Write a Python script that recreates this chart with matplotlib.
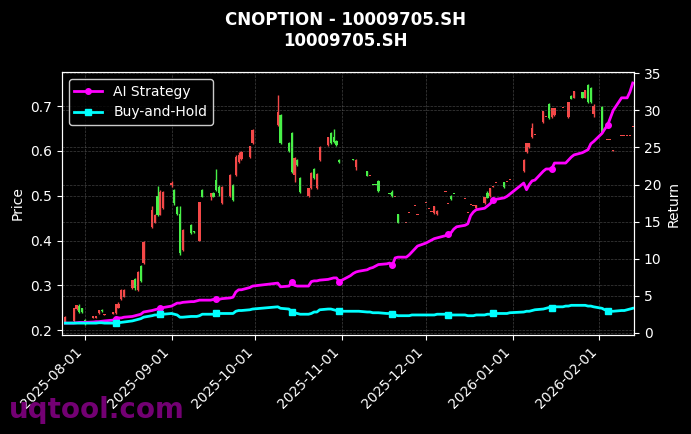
import numpy as np
import pandas as pd
import matplotlib
matplotlib.use("Agg")
import matplotlib.pyplot as plt
import matplotlib.dates as mdates

# trading calendar (SSE): weekdays minus National Day and New Year holidays
holidays = pd.to_datetime(["2025-10-01", "2025-10-02", "2025-10-03", "2025-10-06",
                           "2025-10-07", "2025-10-08", "2026-01-01", "2026-01-02"])
dates = pd.bdate_range("2025-07-25", "2026-02-13")
dates = dates[~dates.isin(holidays)]

# daily OHLC of the option (None = no trade that day)
opens = [.218, .220, .247, .254, .249, .222,
         .228, .228, .238, .246, .233, .236, .238, .250, .269, .275,
         .294, .314, .290, .343, .350, .430, .440, .500, .458, .472,
         .524, .512, .474, .460, .378, .434, .420, None, .400, .512,
         .498, .506, .535, .520, .483, .500, .524, .546, .575, .583,
         .586, .617, .657, .680, .617, .640, .546, .580, .540,
         .500, .517, .560, .517, .580, .613, .640, .630, .622, .580,
         None, None, .581, .565, None, .555, .544, .524, .525, .533,
         None, .505, .508, .497, .459, .439, .461, None, .477, .457,
         .483, .470, .463, .462, .459, .508, .481, .500, .504, None,
         .492, .461, .479, .477, .472, .483, .506, .499, .520, .528,
         .530, .530, .535, .555, .597, .608, .630, .635,
         .664, .675, .704, .675, .680, .695, None, .675, .722, .718,
         .731, .718, .747, .740, .682, .698, None, .624, .624, .600,
         .633, .633, .633, .633, .653]
highs = [.232, .250, .257, .258, .250, .224,
         .230, .229, .246, .248, .235, .241, .259, .262, .292, .291,
         .312, .316, .332, .346, .398, .478, .460, .522, .512, .510,
         .532, .515, .476, .476, .425, .436, .421, None, .487, .514,
         .506, .508, .560, .525, .521, .548, .526, .590, .598, .600,
         .612, .648, .725, .682, .619, .642, .586, .581, .542,
         .518, .552, .562, .550, .610, .632, .642, .648, .624, .582,
         None, None, .582, .582, None, .556, .545, .524, .525, .535,
         None, .505, .512, .498, .460, .440, .462, None, .478, .458,
         .484, .471, .464, .478, .468, .509, .482, .501, .504, None,
         .493, .462, .480, .478, .480, .498, .510, .518, .521, .529,
         .531, .531, .536, .582, .618, .618, .662, .636,
         .690, .676, .706, .696, .696, .696, None, .710, .724, .734,
         .732, .737, .750, .742, .705, .700, None, .625, .625, .601,
         .634, .634, .634, .634, .654]
lows = [.216, .218, .245, .238, .238, .212,
        .228, .228, .236, .240, .233, .235, .236, .249, .267, .274,
        .292, .290, .288, .308, .348, .428, .438, .455, .456, .470,
        .520, .480, .458, .367, .376, .415, .417, None, .398, .496,
        .490, .497, .510, .500, .481, .498, .488, .544, .573, .580,
        .584, .615, .655, .615, .598, .551, .530, .566, .506,
        .498, .515, .538, .515, .578, .611, .615, .618, .612, .574,
        None, None, .580, .558, None, .543, .544, .523, .523, .508,
        None, .504, .496, .497, .438, .439, .461, None, .477, .457,
        .483, .470, .463, .460, .458, .508, .481, .491, .503, None,
        .492, .461, .479, .477, .471, .482, .494, .498, .520, .528,
        .518, .530, .535, .553, .596, .607, .629, .635,
        .663, .675, .672, .674, .679, .695, None, .674, .715, .717,
        .717, .717, .708, .708, .675, .641, None, .624, .624, .600,
        .633, .633, .633, .633, .653]
closes = [.229, .249, .255, .241, .240, .214,
          .230, .229, .245, .242, .235, .240, .258, .258, .289, .290,
          .311, .294, .330, .310, .396, .468, .457, .457, .508, .508,
          .528, .483, .460, .372, .423, .416, .418, None, .485, .497,
          .505, .498, .512, .505, .519, .546, .490, .586, .590, .597,
          .610, .646, .686, .617, .600, .553, .584, .568, .508,
          .517, .550, .540, .548, .608, .630, .617, .620, .613, .575,
          None, None, .580, .580, None, .544, .545, .523, .523, .510,
          None, .504, .500, .498, .439, .440, .462, None, .478, .458,
          .484, .471, .464, .477, .466, .509, .482, .492, .503, None,
          .493, .462, .480, .478, .479, .497, .495, .517, .521, .529,
          .519, .531, .536, .580, .617, .617, .651, .636,
          .689, .676, .673, .695, .695, .696, None, .709, .716, .733,
          .718, .736, .709, .709, .700, .642, None, .625, .625, .601,
          .634, .634, .634, .634, .654]

# cumulative return curves (right axis)
ai_strategy = [1.3, 1.3, 1.35, 1.4, 1.4, 1.4,
               1.45, 1.5, 1.5, 1.55, 1.6, 1.7, 1.9, 2.0, 2.0, 2.1,
               2.2, 2.3, 2.4, 2.5, 2.8, 3.0, 3.1, 3.2, 3.3, 3.4,
               3.6, 3.8, 4.0, 4.0, 4.1, 4.2, 4.2, 4.3, 4.4, 4.4,
               4.4, 4.5, 4.5, 4.5, 4.6, 4.7, 4.8, 5.5, 5.8, 5.8,
               6.1, 6.3, 6.7, 6.2, 6.3, 6.8, 6.4, 6.3, 6.3,
               6.3, 6.9, 7.0, 7.0, 7.1, 7.2, 7.3, 7.4, 7.4, 6.9,
               7.5, 7.7, 8.0, 8.2, 8.3, 8.5, 8.7, 8.8, 9.0, 9.2,
               9.3, 9.4, 9.1, 10.1, 10.2, 10.2, 10.5, 10.9, 11.3, 11.7,
               12.1, 12.3, 12.5, 12.7, 12.8, 13.1, 13.3, 13.5, 14.0, 14.3,
               14.5, 14.7, 15.8, 16.3, 16.6, 16.8, 17.1, 17.4, 17.9, 18.0,
               18.2, 18.4, 18.7, 20.2, 19.3, 20.0, 20.5, 20.6,
               21.8, 22.1, 22.1, 22.1, 22.9, 22.9, 22.9, 23.3, 23.7, 24.0,
               24.3, 24.5, 24.7, 25.5, 25.8, 26.9, 27.5, 28.0, 29.0, 30.0,
               31.7, 31.7, 31.7, 32.5, 33.7]
buy_hold = [1.3, 1.3, 1.3, 1.3, 1.3, 1.3,
            1.3, 1.3, 1.35, 1.35, 1.3, 1.3, 1.35, 1.35, 1.4, 1.45,
            1.6, 1.7, 1.8, 1.9, 2.1, 2.3, 2.4, 2.4, 2.5, 2.5,
            2.6, 2.5, 2.4, 2.1, 2.1, 2.2, 2.2, 2.2, 2.3, 2.5,
            2.5, 2.5, 2.6, 2.6, 2.6, 2.6, 2.6, 2.9, 3.0, 3.0,
            3.1, 3.2, 3.5, 3.3, 3.2, 2.8, 2.7, 2.6, 2.5,
            2.5, 2.6, 2.8, 2.8, 3.1, 3.2, 3.2, 3.1, 3.0, 2.9,
            2.9, 2.9, 2.9, 2.9, 2.9, 2.8, 2.8, 2.7, 2.7, 2.7,
            2.6, 2.6, 2.5, 2.4, 2.3, 2.3, 2.3, 2.4, 2.4, 2.4,
            2.4, 2.4, 2.4, 2.4, 2.5, 2.5, 2.4, 2.4, 2.4, 2.4,
            2.4, 2.3, 2.3, 2.3, 2.4, 2.4, 2.5, 2.5, 2.6, 2.6,
            2.6, 2.6, 2.7, 2.8, 2.9, 2.9, 3.0, 3.1,
            3.2, 3.3, 3.4, 3.4, 3.5, 3.5, 3.6, 3.6, 3.7, 3.7,
            3.7, 3.7, 3.6, 3.6, 3.5, 3.3, 3.1, 3.0, 2.9, 2.9,
            3.0, 3.0, 3.1, 3.2, 3.3]
marker_idx = [12, 24, 38, 51, 64, 77, 91, 103, 116, 130]

o = np.array(opens, dtype=float)
h = np.array(highs, dtype=float)
l = np.array(lows, dtype=float)
c = np.array(closes, dtype=float)
x = mdates.date2num(dates)

UP = '#f44848'
DOWN = '#48f048'

fig = plt.figure(figsize=(6.91, 4.34), dpi=100, facecolor='black')
ax = fig.add_axes([0.0897, 0.228, 0.828, 0.606])
ax.set_facecolor('black')

ok = ~np.isnan(c)
up = ok & (c >= o)
down = ok & (c < o)
for mask, col in [(up, UP), (down, DOWN)]:
    ax.vlines(x[mask], l[mask], h[mask], color=col, linewidth=1)
    body = np.maximum(np.abs(c[mask] - o[mask]), 0.0025)
    ax.bar(x[mask], body, bottom=np.minimum(o[mask], c[mask]), width=0.8,
           color=col, linewidth=0)

ax.set_xlim(x[0] - 1.2, x[-1] + 0.5)
ax.set_ylim(0.189, 0.776)
ax.set_ylabel('Price', color='white')
ax.grid(True, color='gray', linestyle='--', linewidth=0.5, alpha=0.5)
ax.xaxis.set_major_locator(mdates.MonthLocator())
ax.xaxis.set_major_formatter(mdates.DateFormatter('%Y-%m-%d'))
plt.setp(ax.get_xticklabels(), rotation=45, ha='right')

ax2 = ax.twinx()
ax2.plot(x, ai_strategy, color='magenta', linewidth=2, marker='o', markersize=4,
         markevery=marker_idx, label='AI Strategy')
ax2.plot(x, buy_hold, color='cyan', linewidth=2, marker='s', markersize=4,
         markevery=marker_idx, label='Buy-and-Hold')
ax2.set_ylim(-0.31, 35.18)
ax2.set_ylabel('Return', color='white')
ax2.grid(True, color='gray', linestyle='--', linewidth=0.5, alpha=0.5)

for a in (ax, ax2):
    a.tick_params(colors='white')
    for s in a.spines.values():
        s.set_color('white')

leg = ax2.legend(loc='upper left', facecolor='black', edgecolor='white')
for t in leg.get_texts():
    t.set_color('white')

fig.suptitle('CNOPTION - 10009705.SH\n10009705.SH', color='white',
             fontsize=12, fontweight='bold', y=0.975)
fig.text(0.013, 0.038, 'uqtool.com', color='purple', fontsize=20,
         fontweight='bold', alpha=0.9)

fig.savefig('out.png', dpi=100, facecolor='black')
